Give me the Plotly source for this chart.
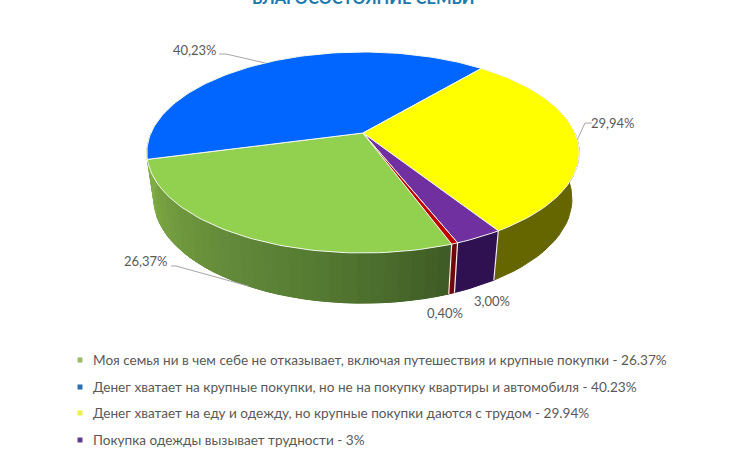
import math
import plotly.graph_objects as go

# slices, clockwise
labels = ["Моя семья", "Денег хватает на крупные", "Денег хватает на еду", "Покупка одежды", "Прочее"]
values = [26.37, 40.23, 29.94, 3.00, 0.40]
value_labels = ["26,37%", "40,23%", "29,94%", "3,00%", "0,40%"]
legend_texts = [
    "Моя семья ни в чем себе не отказывает, включая путешествия и крупные покупки - 26.37%",
    "Денег хватает на крупные покупки, но не на покупку квартиры и автомобиля - 40.23%",
    "Денег хватает на еду и одежду, но крупные покупки даются с трудом - 29.94%",
    "Покупка одежды вызывает трудности - 3%",
]
title = "БЛАГОСОСТОЯНИЕ СЕМЬИ"

top_colors = ["#92D050", "#0066FF", "#FFFF00", "#7030A0", "#C00000"]
side_colors = ["#557a32", "#80ad46", "#666600", "#2f1050", "#700808"]
legend_colors = ["#9DB86A", "#2A6FB0", "#EEF04A", "#5B3D8C"]
green_stops = [(160, "#3e5a25"), (175, "#4a6b2c"), (190, "#557a32"), (210, "#62883a"), (230, "#6f983d"), (255, "#80ad46")]

ROTATION = 160
K = 0.194  # perspective
FONT = "Lato, Carlito, 'Open Sans', sans-serif"
GREY = "#595959"


def project(angle, bottom=False):
    a = math.radians(angle)
    u, v = math.sin(a), -math.cos(a)
    s = 1 / (1 - K * v)
    if bottom:
        return 363 + 205 * u * s, 179 + 100 * v * s
    return 363 + 212 * u * s, 133 + 96.7 * v * s


def hex_mix(c1, c2, t):
    a = [int(c1[i:i + 2], 16) for i in (1, 3, 5)]
    b = [int(c2[i:i + 2], 16) for i in (1, 3, 5)]
    return "rgb(%d,%d,%d)" % tuple(round(x + (y - x) * t) for x, y in zip(a, b))


def green_shade(angle):
    for (a0, c0), (a1, c1) in zip(green_stops, green_stops[1:]):
        if angle <= a1:
            return hex_mix(c0, c1, max(0, (angle - a0) / (a1 - a0)))
    return green_stops[-1][1]


def poly(xs, ys, fill, line=None, width=1):
    return go.Scatter(x=xs, y=ys, mode="lines", fill="toself", fillcolor=fill,
                      line=dict(color=line or fill, width=width),
                      hoverinfo="skip", showlegend=False)


def wall(t0, t1, color, n=1):
    pts = [project(t0 + (t1 - t0) * j / n) for j in range(n + 1)]
    pts += [project(t1 - (t1 - t0) * j / n, True) for j in range(n + 1)]
    pts.append(pts[0])
    return poly([q[0] for q in pts], [q[1] for q in pts], color)


# slice start/end angles from the values
total = sum(values)
spans = []
start = ROTATION
for val in values:
    sweep = val / total * 360
    spans.append((start, start + sweep))
    start += sweep

fig = go.Figure()

# side wall, only the front half shows
for i, (a0, a1) in enumerate(spans):
    for shift in (0, -360):
        lo, hi = max(a0 + shift, 90), min(a1 + shift, 270)
        if hi <= lo:
            continue
        n = max(2, int((hi - lo) / 3))
        if i == 0:
            fig.add_trace(wall(lo, hi, side_colors[0], n))  # base under the shading
            for j in range(n):
                t0 = lo + (hi - lo) * j / n
                t1 = lo + (hi - lo) * (j + 1) / n
                fig.add_trace(wall(t0, t1, green_shade((t0 + t1) / 2)))
        else:
            fig.add_trace(wall(lo, hi, side_colors[i], n))

# white seams on the wall
for a in (spans[2][1] - 360, spans[3][1] - 360, spans[4][1] - 360):
    p0, p1 = project(a), project(a, True)
    fig.add_trace(go.Scatter(x=[p0[0], p1[0]], y=[p0[1], p1[1]], mode="lines",
                             line=dict(color="#f2eef0", width=1.2), hoverinfo="skip", showlegend=False))

# top face
for i, (a0, a1) in enumerate(spans):
    n = max(2, int((a1 - a0) / 1.5))
    rim = [project(a0 + (a1 - a0) * j / n) for j in range(n + 1)]
    xs = [363] + [q[0] for q in rim] + [363]
    ys = [133] + [q[1] for q in rim] + [133]
    fig.add_trace(poly(xs, ys, top_colors[i], line="#f4f8ee", width=1))

# legend squares
fig.add_trace(go.Scatter(x=[80] * 4, y=[360, 387, 413, 440], mode="markers",
                         marker=dict(symbol="square", size=5, color=legend_colors),
                         hoverinfo="skip", showlegend=False))

annotations = [dict(x=363, y=10, text="<b>%s</b>" % title, showarrow=False, xanchor="center", yanchor="bottom",
                    font=dict(family=FONT, size=16.5, color="#1B79AE"))]
for text, y in zip(legend_texts, [360, 387, 413, 440]):
    annotations.append(dict(x=91, y=y, text=text, showarrow=False, xanchor="left", yanchor="middle",
                            font=dict(family=FONT, size=13.6, color=GREY)))

# value labels and their leader lines
label_spots = [(146, 261), (195, 50), (613, 123), (492, 301), (445, 313)]
for text, (x, y) in zip(value_labels, label_spots):
    annotations.append(dict(x=x, y=y, text=text, showarrow=False, xanchor="center", yanchor="middle",
                            font=dict(family=FONT, size=13, color=GREY)))


def mid(i):
    return sum(spans[i]) / 2


leaders = [
    ([171, 176], [266, 266], project(mid(0), True)),
    ([219, 226], [54, 54], project(mid(1))),
    ([592, 585], [123, 123], project(mid(2))),
]
for xs, ys, end in leaders:
    fig.add_trace(go.Scatter(x=xs + [end[0]], y=ys + [end[1]], mode="lines",
                             line=dict(color="#a6a6a6", width=1), hoverinfo="skip", showlegend=False))

fig.update_layout(
    width=730, height=460, margin=dict(l=0, r=0, t=0, b=0),
    paper_bgcolor="white", plot_bgcolor="white", showlegend=False,
    xaxis=dict(range=[0, 730], visible=False, fixedrange=True),
    yaxis=dict(range=[460, 0], visible=False, fixedrange=True),
    annotations=annotations,
)

fig.write_html("out.html", config={"displayModeBar": False},
               post_script="document.body.style.margin='0';")
